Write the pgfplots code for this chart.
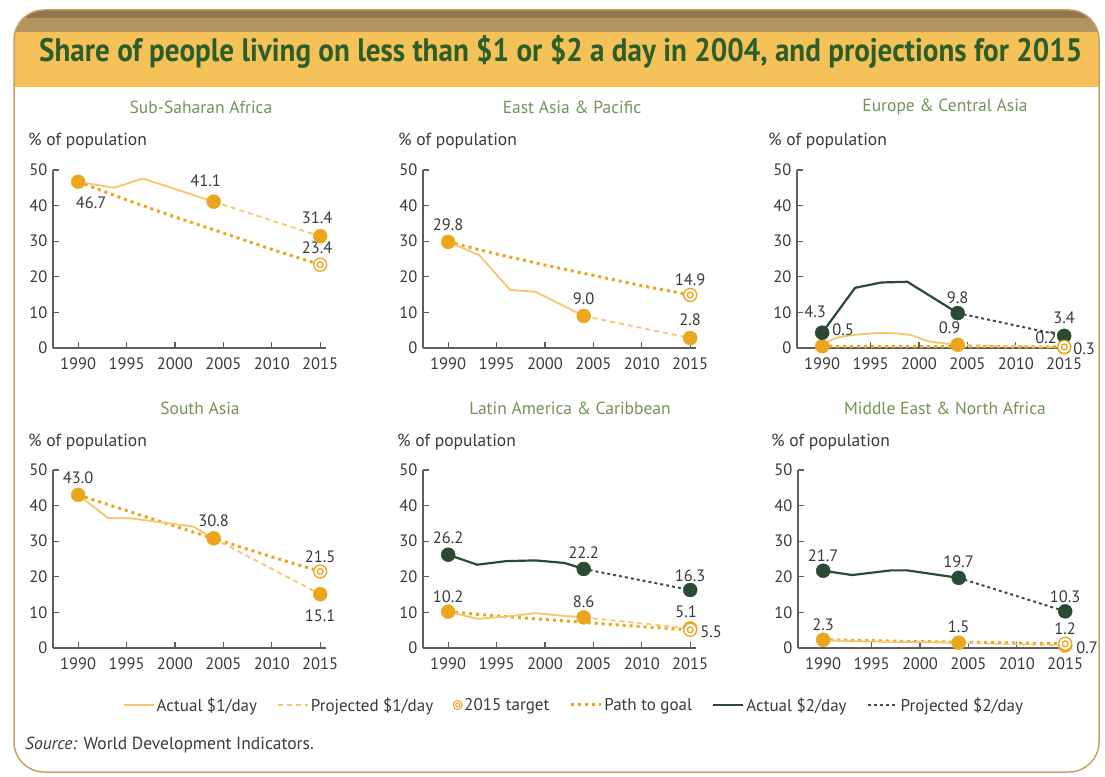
\documentclass[border=0pt]{standalone}
\usepackage{pgfplots}
\pgfplotsset{compat=1.18}
\usepackage{fontspec}
\setmainfont{PT Sans}
\definecolor{gold}{HTML}{EBA61E}
\definecolor{lightgold}{HTML}{F5C66E}
\definecolor{dkgreen}{HTML}{2B4A33}
\definecolor{projgray}{HTML}{4A4A4A}
\definecolor{ptitle}{HTML}{6F9657}
\definecolor{maintitle}{HTML}{2D5E2A}
\definecolor{txt}{HTML}{3A3A3A}
\definecolor{axgray}{HTML}{5E5E5E}
\definecolor{hdrA}{HTML}{957550}
\definecolor{hdrB}{HTML}{B39360}
\definecolor{hdrC}{HTML}{F5C25A}
\definecolor{framec}{HTML}{C4A265}

\pgfdeclareplotmark{target}{%
  \pgfpathcircle{\pgfpointorigin}{\pgfplotmarksize}%
  \pgfusepathqfillstroke
  \pgfpathcircle{\pgfpointorigin}{0.45\pgfplotmarksize}%
  \pgfusepathqstroke
}

\pgfplotsset{
  panel/.style={
    scale only axis, width=273pt, height=178pt, anchor=south west,
    xmin=1987.4, xmax=2015.6, ymin=0, ymax=50,
    axis x line*=bottom, axis y line*=left,
    axis line style={axgray, line width=1.2pt, -},
    xtick={1990,1995,...,2015}, ytick={0,10,...,50},
    tick style={axgray, line width=1.2pt},
    tick align=inside, major tick length=6pt,
    /pgf/number format/assume math mode=true,
    x tick label style={/pgf/number format/1000 sep={}, font=\fontsize{16.5}{18}\selectfont, text=txt, yshift=-6pt},
    y tick label style={font=\fontsize{16.5}{18}\selectfont, text=txt, xshift=-2pt},
    clip=false,
  },
  act1/.style={lightgold, line width=1.8pt, no marks},
  proj1/.style={lightgold, line width=1.8pt, dash pattern=on 5pt off 4pt, no marks},
  pathg/.style={gold, line width=3pt, dash pattern=on 3pt off 4pt, no marks},
  act2/.style={dkgreen, line width=2.2pt, no marks},
  proj2/.style={projgray, line width=2pt, dash pattern=on 3pt off 3pt, no marks},
  dot1/.style={only marks, mark=*, mark size=7pt, gold},
  dot2/.style={only marks, mark=*, mark size=7pt, dkgreen},
  tgt/.style={only marks, mark=target, mark size=6.5pt, gold, mark options={draw=gold, fill=white, line width=1.3pt}},
  tgtleg/.style={only marks, mark=target, mark size=4.5pt, gold, mark options={draw=gold, fill=white, line width=1pt},
    legend image code/.code={\draw[##1] plot coordinates {(5pt,0pt)};}},
  lineleg/.style={legend image code/.code={\draw[##1] (0pt,0pt) -- (30pt,0pt);}},
}
\tikzset{lbl/.style={font=\fontsize{16.5}{18}\selectfont, text=txt, inner sep=0pt},
  ptl/.style={font=\fontsize{17.5}{20}\selectfont, text=ptitle, inner sep=0pt},
  ylb/.style={font=\fontsize{17.5}{20}\selectfont, text=txt, inner sep=0pt, anchor=west}}

\begin{document}
\begin{tikzpicture}[x=1pt,y=1pt]
\path[use as bounding box] (0,0) rectangle (1105,776);
\begin{scope}
\clip[rounded corners=30pt] (14,4) rectangle (1099,766);
\fill[hdrA] (0,758) rectangle (1105,776);
\fill[hdrB] (0,744) rectangle (1105,758);
\fill[hdrC] (0,689) rectangle (1105,744);
\end{scope}
\draw[framec, line width=1.5pt, rounded corners=30pt] (14,4) rectangle (1099,766);
\node[anchor=base west, inner sep=0pt] at (39,714) {\resizebox{1043pt}{26pt}{\color{maintitle}\bfseries Share of people living on less than \$1 or \$2 a day in 2004, and projections for 2015}};

% panel titles
\node[ptl] at (201,669) {Sub-Saharan Africa};
\node[ptl] at (572,669) {East Asia \& Pacific};
\node[ptl] at (945,669) {Europe \& Central Asia};
\node[ptl] at (200,368) {South Asia};
\node[ptl] at (570,368) {Latin America \& Caribbean};
\node[ptl] at (945,368) {Middle East \& North Africa};
\node[ylb] at (28,635) {\% of population};
\node[ylb] at (398,635) {\% of population};
\node[ylb] at (768,635) {\% of population};
\node[ylb] at (28,334) {\% of population};
\node[ylb] at (397,334) {\% of population};
\node[ylb] at (771,334) {\% of population};

% Sub-Saharan Africa
\begin{axis}[panel, at={(53pt,428pt)}]
\addplot[pathg] coordinates {(1990,46.7)(1995,41.6)(2000,36.8)(2005,32.3)(2010,27.7)(2015,23.4)};
\addplot[act1] coordinates {(1990,46.7)(1993.7,45.0)(1996.7,47.6)(2004,41.1)};
\addplot[proj1] coordinates {(2004,41.1)(2015,31.4)};
\addplot[dot1] coordinates {(1990,46.7)(2004,41.1)(2015,31.4)};
\addplot[tgt] coordinates {(2015,23.4)};
\node[lbl, xshift=13pt, yshift=-21pt] at (axis cs:1990,46.7) {46.7};
\node[lbl, xshift=-8pt, yshift=21pt] at (axis cs:2004,41.1) {41.1};
\node[lbl, xshift=-3pt, yshift=18pt] at (axis cs:2015,31.4) {31.4};
\node[lbl, xshift=-3pt, yshift=17pt] at (axis cs:2015,23.4) {23.4};
\end{axis}

% East Asia & Pacific
\begin{axis}[panel, at={(423pt,428pt)}]
\addplot[pathg] coordinates {(1990,29.8)(1995,26.4)(2000,23.3)(2005,20.4)(2010,17.5)(2015,14.9)};
\addplot[act1] coordinates {(1990,29.8)(1993.2,26.1)(1996.4,16.3)(1999,15.8)(2004,9.0)};
\addplot[proj1] coordinates {(2004,9.0)(2015,2.8)};
\addplot[dot1] coordinates {(1990,29.8)(2004,9.0)(2015,2.8)};
\addplot[tgt] coordinates {(2015,14.9)};
\node[lbl, yshift=17pt] at (axis cs:1990,29.8) {29.8};
\node[lbl, yshift=17pt] at (axis cs:2004,9.0) {9.0};
\node[lbl, yshift=15pt] at (axis cs:2015,14.9) {14.9};
\node[lbl, yshift=18pt] at (axis cs:2015,2.8) {2.8};
\end{axis}

% Europe & Central Asia
\begin{axis}[panel, at={(797pt,428pt)}]
\addplot[pathg] coordinates {(1990,0.5)(1995,0.46)(2000,0.42)(2005,0.38)(2010,0.34)(2015,0.3)};
\addplot[act1, smooth] coordinates {(1990,0.5)(1991.3,2.7)(1993.4,3.7)(1996.3,4.2)(1999,3.7)(2001,1.9)(2004,0.9)};
\addplot[proj1] coordinates {(2004,0.9)(2015,0.2)};
\addplot[act2] coordinates {(1990,4.3)(1993.4,16.9)(1996.1,18.4)(1998.8,18.6)(2004,9.8)};
\addplot[proj2] coordinates {(2004,9.8)(2015,3.4)};
\addplot[dot1] coordinates {(1990,0.5)(2004,0.9)(2015,0.2)};
\addplot[dot2] coordinates {(1990,4.3)(2004,9.8)(2015,3.4)};
\addplot[tgt] coordinates {(2015,0.3)};
\node[lbl, xshift=-7pt, yshift=21pt] at (axis cs:1990,4.3) {4.3};
\node[lbl, xshift=21pt, yshift=16pt] at (axis cs:1990,0.5) {0.5};
\node[lbl, yshift=15pt] at (axis cs:2004,9.8) {9.8};
\node[lbl, xshift=-8pt, yshift=17pt] at (axis cs:2004,0.9) {0.9};
\node[lbl, yshift=18pt] at (axis cs:2015,3.4) {3.4};
\node[lbl, xshift=-18pt, yshift=10pt] at (axis cs:2015,0.2) {0.2};
\node[lbl, xshift=20pt, yshift=-2pt] at (axis cs:2015,0.3) {0.3};
\end{axis}

% South Asia
\begin{axis}[panel, at={(53pt,128pt)}]
\addplot[pathg] coordinates {(1990,43.0)(1995,38.6)(2000,34.2)(2005,29.9)(2010,25.6)(2015,21.5)};
\addplot[act1] coordinates {(1990,43.0)(1993.1,36.5)(1995.5,36.4)(2001.9,34.1)(2004,30.8)};
\addplot[proj1] coordinates {(2004,30.8)(2015,15.1)};
\addplot[dot1] coordinates {(1990,43.0)(2004,30.8)(2015,15.1)};
\addplot[tgt] coordinates {(2015,21.5)};
\node[lbl, yshift=17pt] at (axis cs:1990,43.0) {43.0};
\node[lbl, yshift=18pt] at (axis cs:2004,30.8) {30.8};
\node[lbl, yshift=15pt] at (axis cs:2015,21.5) {21.5};
\node[lbl, yshift=-21pt] at (axis cs:2015,15.1) {15.1};
\end{axis}

% Latin America & Caribbean
\begin{axis}[panel, at={(423pt,128pt)}]
\addplot[pathg] coordinates {(1990,10.2)(1995,9.0)(2000,8.0)(2005,7.0)(2010,6.0)(2015,5.1)};
\addplot[act1] coordinates {(1990,10.2)(1993,8.2)(1996,8.8)(1999,9.8)(2002,9.0)(2004,8.6)};
\addplot[proj1] coordinates {(2004,8.6)(2015,5.5)};
\addplot[act2] coordinates {(1990,26.2)(1993,23.4)(1996,24.4)(1999,24.6)(2002,23.9)(2004,22.2)};
\addplot[proj2] coordinates {(2004,22.2)(2015,16.3)};
\addplot[dot1] coordinates {(1990,10.2)(2004,8.6)(2015,5.5)};
\addplot[dot2] coordinates {(1990,26.2)(2004,22.2)(2015,16.3)};
\addplot[tgt] coordinates {(2015,5.1)};
\node[lbl, yshift=17pt] at (axis cs:1990,26.2) {26.2};
\node[lbl, yshift=16pt] at (axis cs:2004,22.2) {22.2};
\node[lbl, yshift=14pt] at (axis cs:2015,16.3) {16.3};
\node[lbl, yshift=15pt] at (axis cs:1990,10.2) {10.2};
\node[lbl, yshift=16pt] at (axis cs:2004,8.6) {8.6};
\node[lbl, xshift=-4pt, yshift=18pt] at (axis cs:2015,5.1) {5.1};
\node[lbl, xshift=21pt, yshift=-3pt] at (axis cs:2015,5.5) {5.5};
\end{axis}

% Middle East & North Africa
\begin{axis}[panel, at={(798pt,128pt)}]
\addplot[pathg] coordinates {(1990,2.3)(1995,2.05)(2000,1.8)(2005,1.6)(2010,1.4)(2015,1.2)};
\addplot[act1] coordinates {(1990,2.3)(1993,1.9)(1996,1.8)(1999,1.7)(2002,1.6)(2004,1.5)};
\addplot[proj1] coordinates {(2004,1.5)(2015,0.7)};
\addplot[act2] coordinates {(1990,21.7)(1993,20.5)(1997,21.8)(1998.7,21.8)(2004,19.7)};
\addplot[proj2] coordinates {(2004,19.7)(2015,10.3)};
\addplot[dot1] coordinates {(1990,2.3)(2004,1.5)(2015,0.7)};
\addplot[dot2] coordinates {(1990,21.7)(2004,19.7)(2015,10.3)};
\addplot[tgt] coordinates {(2015,1.2)};
\node[lbl, yshift=15pt] at (axis cs:1990,21.7) {21.7};
\node[lbl, yshift=16pt] at (axis cs:2004,19.7) {19.7};
\node[lbl, yshift=15pt] at (axis cs:2015,10.3) {10.3};
\node[lbl, yshift=15pt] at (axis cs:1990,2.3) {2.3};
\node[lbl, yshift=16pt] at (axis cs:2004,1.5) {1.5};
\node[lbl, yshift=15pt] at (axis cs:2015,1.2) {1.2};
\node[lbl, xshift=22pt, yshift=-2pt] at (axis cs:2015,0.7) {0.7};
\end{axis}

% legend
\begin{axis}[at={(574pt,71pt)}, anchor=center, hide axis, scale only axis, width=10pt, height=10pt,
  xmin=0, xmax=1, ymin=0, ymax=1,
  legend columns=6,
  legend style={at={(0.5,0.5)}, anchor=center, draw=none, fill=none,
    font=\fontsize{17}{20}\selectfont, text=txt, inner sep=0pt,
    /tikz/every even column/.append style={column sep=18pt}}]
\addlegendimage{act1, lineleg}
\addlegendentry{Actual \$1/day}
\addlegendimage{proj1, lineleg}
\addlegendentry{Projected \$1/day}
\addlegendimage{tgtleg}
\addlegendentry{2015 target}
\addlegendimage{pathg, lineleg}
\addlegendentry{Path to goal}
\addlegendimage{act2, lineleg}
\addlegendentry{Actual \$2/day}
\addlegendimage{proj2, lineleg}
\addlegendentry{Projected \$2/day}
\end{axis}

\node[anchor=west, inner sep=0pt, font=\fontsize{17.5}{20}\selectfont, text=txt] at (25,31) {\textit{Source:} World Development Indicators.};
\end{tikzpicture}
\end{document}
